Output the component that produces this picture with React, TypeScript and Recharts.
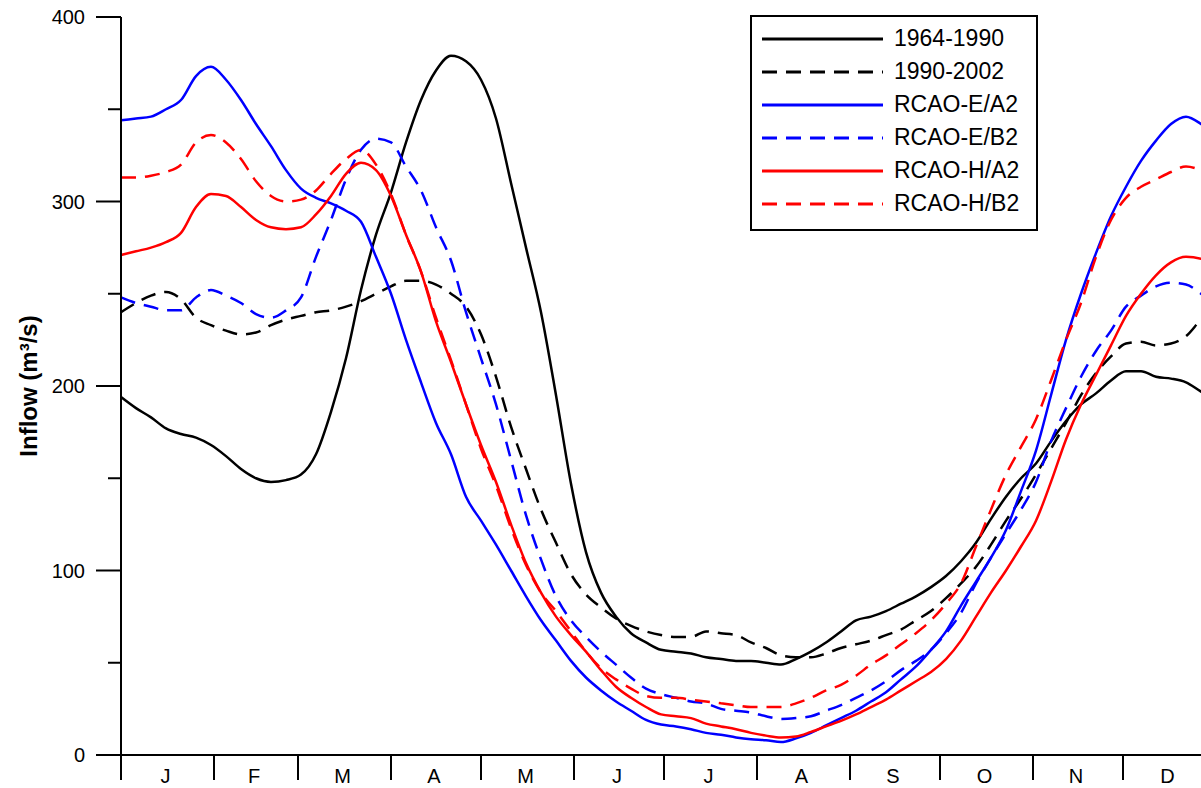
import { LineChart, Line, XAxis, YAxis, Legend } from 'recharts';

// day of year, every 5 days
const days = [
    0, 5, 10, 15, 20, 25, 30, 35, 40, 45, 50, 55, 60, 65, 70, 75, 80, 85, 90, 95,
    100, 105, 110, 115, 120, 125, 130, 135, 140, 145, 150, 155, 160, 165, 170, 175, 180, 185, 190, 195,
    200, 205, 210, 215, 220, 225, 230, 235, 240, 245, 250, 255, 260, 265, 270, 275, 280, 285, 290, 295,
    300, 305, 310, 315, 320, 325, 330, 335, 340, 345, 350, 355, 360, 365
];

const obs1964_1990 = [
    194, 188, 183, 177, 174, 172, 168, 162, 155, 150, 148, 149, 152, 163, 186, 215, 252, 282, 305, 332,
    355, 371, 379, 376, 366, 345, 310, 275, 240, 195, 147, 110, 88, 75, 66, 61, 57, 56, 55, 53,
    52, 51, 51, 50, 49, 52, 56, 61, 67, 73, 75, 78, 82, 86, 91, 97, 105, 115, 128, 140,
    150, 158, 170, 181, 190, 196, 203, 208, 208, 205, 204, 202, 197, 193
];

const obs1990_2002 = [
    240, 245, 249, 251, 247, 237, 233, 230, 228, 229, 233, 236, 238, 240, 241, 243, 246, 250, 254, 257,
    257, 255, 250, 243, 228, 205, 178, 155, 133, 115, 98, 87, 80, 74, 70, 67, 65, 64, 64, 67,
    66, 65, 61, 58, 54, 53, 53, 55, 58, 60, 62, 65, 68, 73, 78, 85, 93, 102, 114, 127,
    139, 152, 166, 180, 195, 207, 216, 223, 224, 222, 223, 227, 236, 243
];

const rcaoEA2 = [
    344, 345, 346, 350, 355, 368, 373, 366, 355, 342, 330, 317, 307, 302, 299, 295, 289, 270, 250, 225,
    202, 180, 163, 140, 127, 114, 100, 86, 73, 62, 51, 42, 35, 29, 24, 19, 16.5, 15.5, 14, 12,
    11, 9.5, 8.5, 8, 7, 9, 12, 16, 20, 24, 29, 34, 41, 48, 57, 67, 81, 94, 107, 122,
    143, 165, 195, 225, 250, 272, 292, 308, 322, 333, 342, 346, 342, 335
];

const rcaoEB2 = [
    248, 245, 243, 241, 241, 248, 252, 249, 245, 239, 237, 241, 248, 270, 290, 312, 328, 334, 332, 319,
    306, 286, 268, 240, 215, 190, 160, 130, 106, 86, 73, 64, 56, 49, 42, 36, 33, 31, 29, 28,
    25, 24, 23, 21, 19.5, 20, 21, 24, 27, 31, 35, 40, 46, 51, 57, 66, 77, 93, 107, 120,
    133, 148, 170, 188, 205, 219, 230, 243, 249, 254, 256, 255, 250, 243
];

const rcaoHA2 = [
    271, 273, 275, 278, 283, 297, 304, 303, 297, 290, 286, 285, 286, 293, 303, 315, 321, 317, 303, 282,
    262, 235, 213, 190, 168, 148, 125, 104, 88, 75, 65, 56, 46, 37, 31, 26, 22, 21, 20, 17,
    15.5, 14, 12, 10.5, 9.5, 10, 12.5, 15.5, 18.5, 22, 26, 30, 35, 40, 45, 52, 62, 75, 88, 100,
    113, 127, 148, 171, 190, 206, 222, 238, 250, 260, 267, 270, 269, 266
];

const rcaoHB2 = [
    313, 313, 314, 316, 320, 332, 336, 332, 323, 311, 303, 300, 301, 306, 315, 323, 328, 320, 304, 282,
    262, 237, 214, 190, 166, 146, 123, 103, 88, 78, 67, 56, 47, 41, 36, 32, 31, 31, 30, 29,
    28, 27, 26, 26, 26, 28, 31, 35, 38, 43, 49, 54, 60, 66, 73, 82, 93, 113, 133, 152,
    167, 182, 203, 225, 245, 270, 290, 302, 308, 312, 316, 319, 317, 313
];

// month boundaries (day of year) and month labels placed mid-month
const monthStarts = [0, 31, 59, 90, 120, 151, 181, 212, 243, 273, 304, 334, 365];
const monthLabels = ['J', 'F', 'M', 'A', 'M', 'J', 'J', 'A', 'S', 'O', 'N', 'D'];
const monthMids = monthLabels.map((_, i) => (monthStarts[i] + monthStarts[i + 1]) / 2);

const yTicks = [0, 50, 100, 150, 200, 250, 300, 350, 400];

const series = [
    { key: 'obs1964_1990', name: '1964-1990', color: '#000000', dash: '' },
    { key: 'obs1990_2002', name: '1990-2002', color: '#000000', dash: '15 9' },
    { key: 'rcaoEA2', name: 'RCAO-E/A2', color: '#0000ff', dash: '' },
    { key: 'rcaoEB2', name: 'RCAO-E/B2', color: '#0000ff', dash: '15 9' },
    { key: 'rcaoHA2', name: 'RCAO-H/A2', color: '#ff0000', dash: '' },
    { key: 'rcaoHB2', name: 'RCAO-H/B2', color: '#ff0000', dash: '15 9' },
];

const data = days.map((d, i) => ({
    day: d,
    obs1964_1990: obs1964_1990[i],
    obs1990_2002: obs1990_2002[i],
    rcaoEA2: rcaoEA2[i],
    rcaoEB2: rcaoEB2[i],
    rcaoHA2: rcaoHA2[i],
    rcaoHB2: rcaoHB2[i],
}));

const xTicks = [...monthStarts, ...monthMids].sort((a, b) => a - b);

function MonthTick(props: any) {
    const { x, y, payload } = props;
    const v = payload.value;
    if (monthStarts.includes(v)) {
        return <line x1={x} y1={y} x2={x} y2={y + 25} stroke="#000" strokeWidth={2}/>;
    }
    const idx = monthMids.indexOf(v);
    return <text x={x - 2} y={y + 28} textAnchor="middle" fontSize={20} fill="#000">{monthLabels[idx]}</text>;
}

function FlowTick(props: any) {
    const { x, y, payload } = props;
    const v = payload.value;
    if (v % 100 === 0) {
        return <g>
            <line x1={x - 25} y1={y} x2={x} y2={y} stroke="#000" strokeWidth={2}/>
            <text x={x - 36} y={y + 7} textAnchor="end" fontSize={20} fill="#000">{v}</text>
        </g>;
    }
    return <line x1={x - 13} y1={y} x2={x} y2={y} stroke="#000" strokeWidth={2}/>;
}

function LegendBox() {
    return <div style={{
        border: '2px solid #000',
        background: '#fff',
        padding: '5px 10px 9px 10px',
        boxSizing: 'border-box',
        width: 288,
    }}>
        {series.map(s =>
            <div key={s.key} style={{display: 'flex', alignItems: 'center', height: 33}}>
                <svg width={121} height={6} style={{marginRight: 11}}>
                    <line x1={0} y1={3} x2={121} y2={3} stroke={s.color} strokeWidth={3}
                          strokeDasharray={s.dash || undefined}/>
                </svg>
                <span style={{fontSize: 23, color: '#000', lineHeight: '33px'}}>{s.name}</span>
            </div>
        )}
    </div>;
}

export default function App() {
    return <div style={{
        position: 'fixed', left: 0, top: 0, width: 1201, height: 788, overflow: 'hidden',
        background: '#fff', fontFamily: '"Liberation Sans", Arial, sans-serif'
    }}>
        <LineChart width={1225} height={800} data={data}
                   margin={{top: 17, right: 9, left: 0, bottom: 5}}>
            <XAxis dataKey="day" type="number" domain={[0, 365]} ticks={xTicks} interval={0}
                   tickSize={0} tickMargin={0} tickLine={false} height={40}
                   axisLine={{stroke: '#000', strokeWidth: 2}} tick={<MonthTick/>}/>
            <YAxis type="number" domain={[0, 400]} ticks={yTicks} interval={0} width={121}
                   tickSize={0} tickMargin={0} tickLine={false}
                   axisLine={{stroke: '#000', strokeWidth: 2}} tick={<FlowTick/>}
                   label={{
                       value: 'Inflow (m³/s)', angle: -90, position: 'insideLeft', offset: 28,
                       style: {textAnchor: 'middle', fontSize: 24, fontWeight: 'bold', fill: '#000'}
                   }}/>
            <Legend layout="vertical" align="center" verticalAlign="middle"
                    wrapperStyle={{left: 750, top: 15, width: 288, height: 'auto'}}
                    content={() => <LegendBox/>}/>
            {series.map(s =>
                <Line key={s.key} type="monotone" dataKey={s.key} name={s.name} stroke={s.color}
                      strokeWidth={2.5} strokeDasharray={s.dash || undefined} dot={false}
                      activeDot={false} isAnimationActive={false}/>
            )}
        </LineChart>
    </div>;
}
